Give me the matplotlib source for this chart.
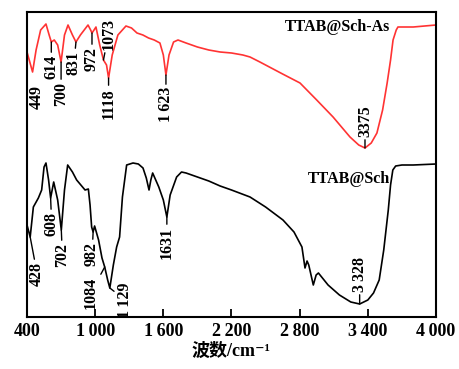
import numpy as np
import matplotlib
matplotlib.use('Agg')
import matplotlib.pyplot as plt

plt.rcParams['font.family'] = ['Liberation Serif', 'Noto Sans CJK SC', 'DejaVu Serif']
plt.rcParams['font.weight'] = 'bold'

# FTIR spectra, wavenumber (cm-1) vs relative transmittance (arb. units)
wn_as = [400, 449, 480, 520, 567, 595, 614, 640, 670, 700, 730, 761, 800, 831, 870,
         937, 960, 972, 990, 1007, 1040, 1073, 1100, 1118, 1150, 1200, 1271, 1320,
         1368, 1420, 1470, 1520, 1570, 1600, 1623, 1650, 1690, 1729, 1800, 1900,
         2000, 2100, 2200, 2300, 2363, 2450, 2550, 2650, 2803, 2950, 3094, 3243,
         3320, 3375, 3430, 3480, 3530, 3570, 3600, 3622, 3650, 3665, 3700, 3800,
         3900, 4000]
px_as = [52, 72, 50, 30, 24, 35, 42, 40, 45, 62, 35, 25, 35, 42, 35,
         25, 30, 33, 30, 27, 45, 60, 65, 78, 55, 35, 26, 28,
         33, 35, 38, 40, 43, 55, 75, 55, 42, 40, 43, 47,
         50, 52, 53, 55, 57, 62, 68, 74, 83, 100, 117, 137,
         145, 148, 143, 133, 110, 83, 60, 40, 30, 27, 27, 27,
         26, 25]

wn_sch = [400, 428, 456, 500, 529, 550, 567, 590, 608, 635, 670, 702, 730, 758,
          800, 837, 911, 940, 955, 969, 982, 995, 1030, 1060, 1084, 1110, 1129,
          1160, 1189, 1215, 1240, 1277, 1333, 1380, 1421, 1450, 1474, 1490, 1506,
          1560, 1600, 1631, 1660, 1717, 1760, 1800, 1900, 2000, 2100, 2200, 2363,
          2500, 2653, 2750, 2820, 2847, 2865, 2880, 2920, 2945, 2965, 3050, 3150,
          3250, 3328, 3400, 3450, 3500, 3540, 3580, 3600, 3620, 3645, 3700, 3800,
          4000]
px_sch = [225, 237, 207, 198, 190, 167, 163, 180, 198, 182, 200, 230, 190, 165,
          172, 180, 190, 189, 205, 227, 232, 226, 240, 258, 267, 280, 288,
          265, 247, 237, 197, 165, 163, 164, 168, 178, 190, 180, 173,
          187, 200, 217, 195, 177, 172, 173, 177, 181, 186, 190, 197,
          207, 220, 232, 247, 268, 261, 265, 285, 275, 273, 285, 295,
          302, 304, 300, 293, 280, 250, 210, 185, 170, 166, 165, 165,
          164]

T_as = 317 - np.array(px_as)
T_sch = 317 - np.array(px_sch)

# peak labels: (text, wavenumber, dx, dy in px, anchor, leader line)
peaks_as = [('449', 449, 4, -13, 'top', False),
            ('614', 614, 0, -13, 'top', True),
            ('700', 700, 0, -20, 'top', True),
            ('831', 831, -2, -9, 'top', True),
            ('972', 972, 0, -14, 'top', True),
            ('1073', 1073, 5, 10, 'bottom', True),
            ('1118', 1118, 0, -10, 'top', True),
            ('1\u2009623', 1623, 0, -12, 'top', True),
            ('3375', 3375, 0, 11, 'bottom', True)]
peaks_sch = [('428', 428, 7, -25, 'top', True),
             ('608', 608, 1, -14, 'top', True),
             ('702', 702, 1, -13, 'top', True),
             ('982', 982, -1, -10, 'top', True),
             ('1084', 1084, -14, -10, 'top', True),
             ('1\u2009129', 1129, 15, 6, 'top', True),
             ('1631', 1631, 0, -10, 'top', True),
             ('3\u2009328', 3328, 0, 12, 'bottom', True)]

xticks = [400, 1000, 1600, 2200, 2800, 3400, 4000]
xticklabels = ['400', '1\u2009000', '1\u2009600', '2\u2009200', '2\u2009800', '3\u2009400', '4\u2009000']

fig = plt.figure(figsize=(4.6, 3.69), dpi=100)
ax = fig.add_axes([27 / 460, 52 / 369, 409 / 460, 305 / 369])

ax.plot(wn_as, T_as, color='#ff3333', lw=1.2)
ax.plot(wn_sch, T_sch, color='black', lw=1.2)

px = 0.72  # points per pixel at 100 dpi
for peaks, wn, T in [(peaks_as, wn_as, T_as), (peaks_sch, wn_sch, T_sch)]:
    for text, p, dx, dy, va, leader in peaks:
        tip = np.interp(p, wn, T)
        ax.annotate(text, xy=(p, tip), xytext=(dx * px, dy * px),
                    textcoords='offset points', rotation=90,
                    ha='center', va=va, fontsize=11.5, fontweight='bold',
                    arrowprops=dict(arrowstyle='-', lw=1.0, color='black',
                                    shrinkA=0, shrinkB=0) if leader else None)

ax.text(3600, 317 - 27, 'TTAB@Sch-As', ha='right', va='center',
        fontsize=11.5, fontweight='bold')
ax.text(3600, 317 - 179, 'TTAB@Sch', ha='right', va='center',
        fontsize=11.5, fontweight='bold')

ax.set_xlim(400, 4000)
ax.set_ylim(0, 305)
ax.set_xticks(xticks)
ax.set_xticklabels(xticklabels, fontsize=13, fontweight='bold')
ax.set_yticks([])
ax.tick_params(axis='x', direction='in', length=6, width=1.3, pad=4)
for s in ax.spines.values():
    s.set_linewidth(1.5)
ax.set_xlabel('波数/cm⁻¹', fontsize=13, fontweight='bold', labelpad=2)

fig.savefig('out.png', dpi=100)
